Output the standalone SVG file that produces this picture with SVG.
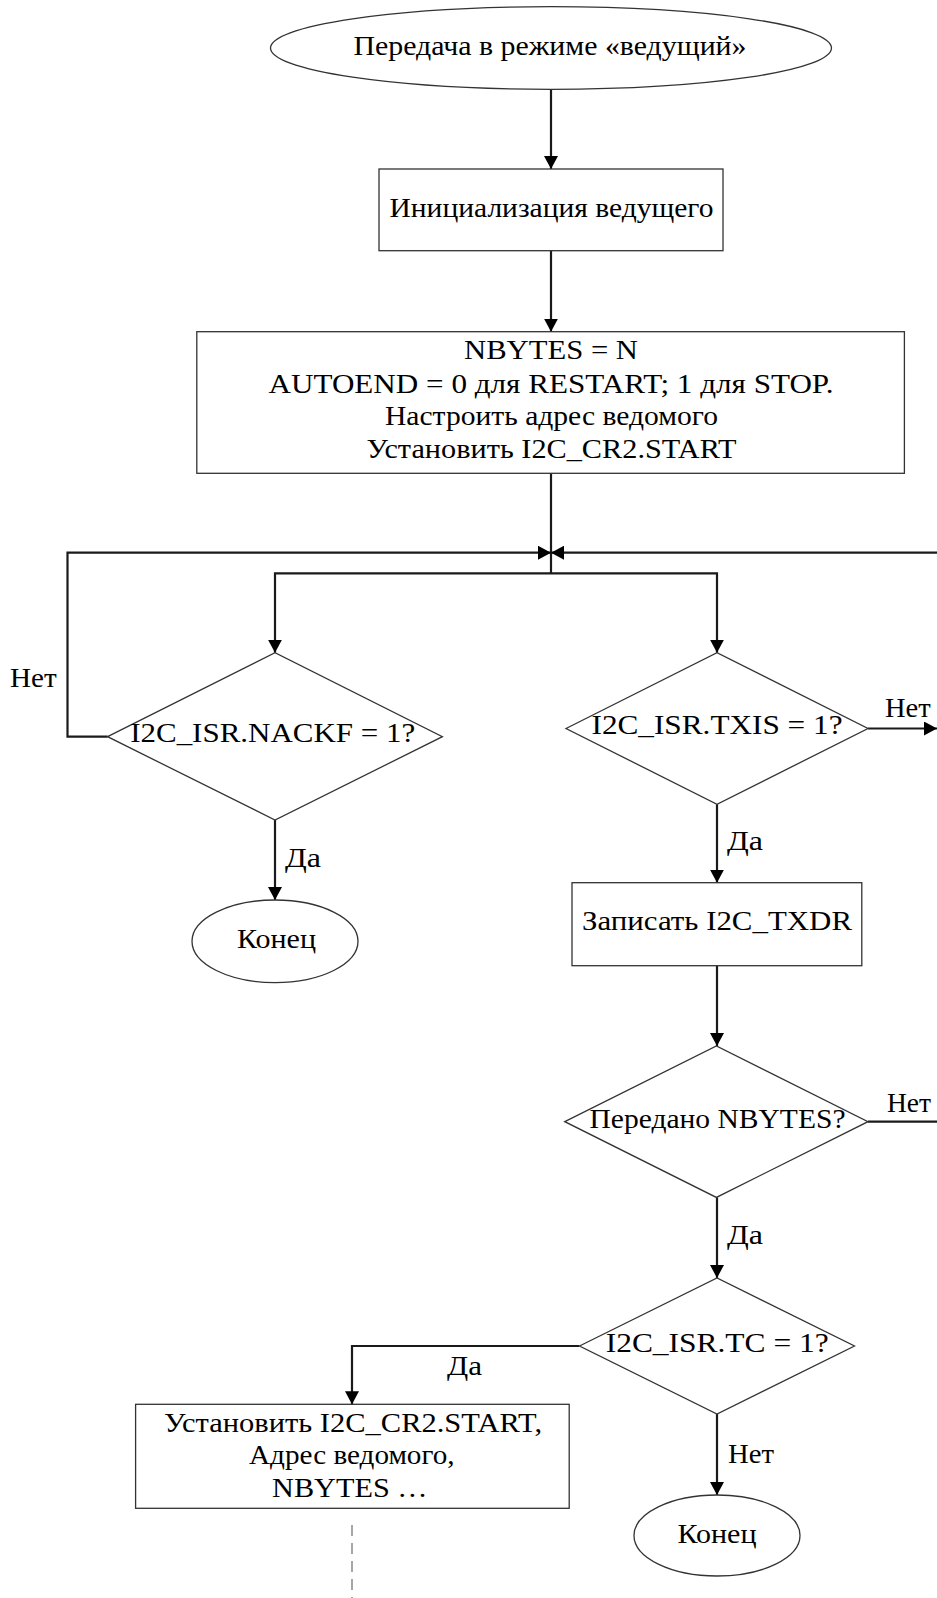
<svg xmlns="http://www.w3.org/2000/svg" width="937" height="1598" viewBox="0 0 937 1598">
<style>
.shape{fill:#fff;stroke:#333;stroke-width:1.3}
.conn{fill:none;stroke:#1a1a1a;stroke-width:2.2}
.dash{fill:none;stroke:#777;stroke-width:1.3;stroke-dasharray:11 7}
text{font-family:"Liberation Serif","Times New Roman",serif;font-size:27px;fill:#000}
.c{text-anchor:middle}
</style>
<defs>
<marker id="arr" markerUnits="userSpaceOnUse" viewBox="0 0 13 14" markerWidth="13" markerHeight="14" refX="13" refY="7" orient="auto">
<path d="M0,0 L13,7 L0,14 z" fill="#000"/>
</marker>
</defs>
<rect width="937" height="1598" fill="#fff"/>
<g id="connectors">
<path class="conn" d="M551,89.3 V169" marker-end="url(#arr)"/>
<path class="conn" d="M551,250.7 V331.7" marker-end="url(#arr)"/>
<path class="conn" d="M551,473.3 V573.3"/>
<path class="conn" d="M551,573.3 H275 V652.7" marker-end="url(#arr)"/>
<path class="conn" d="M551,573.3 H717 V652.7" marker-end="url(#arr)"/>
<path class="conn" d="M107.6,736.7 H67.5 V552.7 H551" marker-end="url(#arr)"/>
<path class="conn" d="M940,552.7 H551" marker-end="url(#arr)"/>
<path class="conn" d="M868,728.5 H937" marker-end="url(#arr)"/>
<path class="conn" d="M275,820 V900" marker-end="url(#arr)"/>
<path class="conn" d="M717,804.3 V882.7" marker-end="url(#arr)"/>
<path class="conn" d="M717,965.7 V1046" marker-end="url(#arr)"/>
<path class="conn" d="M868,1121.7 H940"/>
<path class="conn" d="M717,1197.4 V1278" marker-end="url(#arr)"/>
<path class="conn" d="M579.5,1346 H352 V1404.3" marker-end="url(#arr)"/>
<path class="conn" d="M717,1414 V1495" marker-end="url(#arr)"/>
<path class="dash" d="M352,1525 V1598"/>
<text x="10" y="686.7" textLength="46.7" lengthAdjust="spacingAndGlyphs">Нет</text>
<text x="885" y="717" textLength="45.7" lengthAdjust="spacingAndGlyphs">Нет</text>
<text x="285" y="866.7" textLength="36" lengthAdjust="spacingAndGlyphs">Да</text>
<text x="727" y="850" textLength="36" lengthAdjust="spacingAndGlyphs">Да</text>
<text x="887" y="1111.7" textLength="44" lengthAdjust="spacingAndGlyphs">Нет</text>
<text x="727" y="1244" textLength="36" lengthAdjust="spacingAndGlyphs">Да</text>
<text x="447" y="1375" textLength="35" lengthAdjust="spacingAndGlyphs">Да</text>
<text x="728" y="1463.3" textLength="46" lengthAdjust="spacingAndGlyphs">Нет</text>
</g>
<g id="start">
<ellipse class="shape" cx="551" cy="48" rx="280.5" ry="41.3"/>
<text class="c" x="550" y="55" textLength="393" lengthAdjust="spacingAndGlyphs">Передача в режиме «ведущий»</text>
</g>
<g id="init">
<rect class="shape" x="379" y="169" width="344" height="81.7"/>
<text class="c" x="551.5" y="216.7" textLength="324" lengthAdjust="spacingAndGlyphs">Инициализация ведущего</text>
</g>
<g id="setup">
<rect class="shape" x="196.8" y="331.7" width="707.6" height="141.6"/>
<text class="c" x="551" y="359.3" textLength="174" lengthAdjust="spacingAndGlyphs">NBYTES = N</text>
<text class="c" x="551" y="392.7" textLength="565" lengthAdjust="spacingAndGlyphs">AUTOEND = 0 для RESTART; 1 для STOP.</text>
<text class="c" x="551.5" y="425" textLength="333" lengthAdjust="spacingAndGlyphs">Настроить адрес ведомого</text>
<text class="c" x="551.6" y="458.3" textLength="370" lengthAdjust="spacingAndGlyphs">Установить I2C_CR2.START</text>
</g>
<g id="nackf">
<polygon class="shape" points="107.6,736.7 275,652.7 442.4,736.7 275,820"/>
<text class="c" x="272.7" y="742.3" textLength="285" lengthAdjust="spacingAndGlyphs">I2C_ISR.NACKF = 1?</text>
</g>
<g id="txis">
<polygon class="shape" points="566,728.5 717,652.7 868,728.5 717,804.3"/>
<text class="c" x="717" y="734" textLength="251" lengthAdjust="spacingAndGlyphs">I2C_ISR.TXIS = 1?</text>
</g>
<g id="end1">
<ellipse class="shape" cx="275" cy="941.3" rx="83" ry="41.3"/>
<text class="c" x="276.5" y="948" textLength="79" lengthAdjust="spacingAndGlyphs">Конец</text>
</g>
<g id="write">
<rect class="shape" x="572" y="882.7" width="289.8" height="83"/>
<text class="c" x="717" y="930" textLength="270" lengthAdjust="spacingAndGlyphs">Записать I2C_TXDR</text>
</g>
<g id="nbytes">
<polygon class="shape" points="564.8,1121.7 716.4,1046 868,1121.7 716.4,1197.4"/>
<text class="c" x="717.5" y="1128.3" textLength="256" lengthAdjust="spacingAndGlyphs">Передано NBYTES?</text>
</g>
<g id="tc">
<polygon class="shape" points="579.5,1346 717,1278 854.5,1346 717,1414"/>
<text class="c" x="717.2" y="1352.3" textLength="223" lengthAdjust="spacingAndGlyphs">I2C_ISR.TC = 1?</text>
</g>
<g id="restart">
<rect class="shape" x="135.6" y="1404.3" width="433.6" height="104"/>
<text class="c" x="353" y="1431.7" textLength="378" lengthAdjust="spacingAndGlyphs">Установить I2C_CR2.START,</text>
<text class="c" x="351.8" y="1464" textLength="205.5" lengthAdjust="spacingAndGlyphs">Адрес ведомого,</text>
<text class="c" x="349.8" y="1497.3" textLength="155.5" lengthAdjust="spacingAndGlyphs">NBYTES …</text>
</g>
<g id="end2">
<ellipse class="shape" cx="717" cy="1535.5" rx="83" ry="40.5"/>
<text class="c" x="717" y="1543.3" textLength="79" lengthAdjust="spacingAndGlyphs">Конец</text>
</g>
</svg>
